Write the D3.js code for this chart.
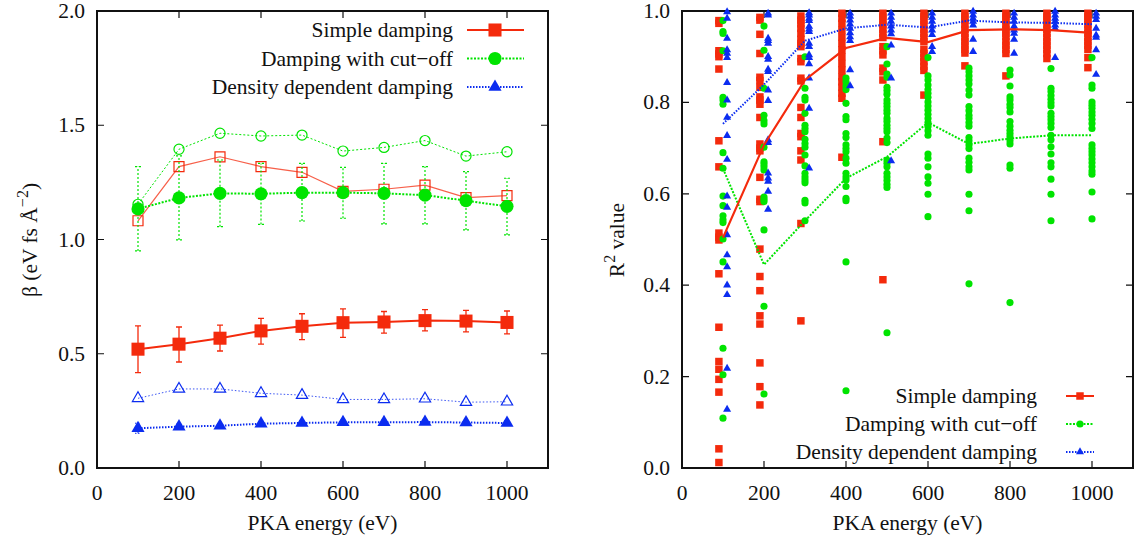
<!DOCTYPE html>
<html>
<head>
<meta charset="utf-8">
<script src="https://cdn.jsdelivr.net/npm/d3@7"></script>
<style>
  body { margin: 0; background: #fff; }
</style>
</head>
<body>
<div id="chart"></div>
<script>
const energies = [100, 200, 300, 400, 500, 600, 700, 800, 900, 1000];
const xTicks = [0, 200, 400, 600, 800, 1000];
const betaTicks = [0, 0.5, 1.0, 1.5, 2.0];
const r2Ticks = [0, 0.2, 0.4, 0.6, 0.8, 1.0];
const seriesNames = ["Simple damping", "Damping with cut\u2212off", "Density dependent damping"];

// left panel: beta values (filled = mean with error bars, open = second estimate)
const simpleBeta = [0.52, 0.542, 0.568, 0.60, 0.62, 0.636, 0.639, 0.645, 0.643, 0.637];
const simpleBetaLo = [0.417, 0.464, 0.512, 0.542, 0.562, 0.572, 0.59, 0.60, 0.596, 0.587];
const simpleBetaHi = [0.622, 0.617, 0.625, 0.655, 0.675, 0.696, 0.685, 0.693, 0.69, 0.687];
const simpleBetaOpen = [1.082, 1.319, 1.362, 1.319, 1.294, 1.211, 1.22, 1.238, 1.183, 1.192];

const cutoffBeta = [1.134, 1.182, 1.202, 1.2, 1.205, 1.205, 1.202, 1.194, 1.17, 1.145];
const cutoffBetaLo = [0.95, 0.998, 1.056, 1.066, 1.081, 1.093, 1.068, 1.068, 1.042, 1.02];
const cutoffBetaHi = [1.319, 1.366, 1.348, 1.333, 1.333, 1.316, 1.333, 1.319, 1.297, 1.268];
const cutoffBetaOpen = [1.154, 1.395, 1.465, 1.453, 1.457, 1.387, 1.403, 1.433, 1.365, 1.384];

const densityBeta = [0.174, 0.181, 0.185, 0.194, 0.197, 0.2, 0.2, 0.201, 0.199, 0.197];
const densityBetaLo = [0.152, 0.17, 0.176, 0.185, 0.188, 0.191, 0.191, 0.192, 0.19, 0.188];
const densityBetaHi = [0.196, 0.192, 0.194, 0.203, 0.206, 0.209, 0.209, 0.21, 0.208, 0.206];
const densityBetaOpen = [0.305, 0.346, 0.346, 0.327, 0.319, 0.30, 0.30, 0.303, 0.288, 0.29];

// right panel: R^2 of every run, one list per energy
const simpleR2 = [
  [0.979, 0.973, 0.913, 0.906, 0.9, 0.873, 0.716, 0.659, 0.514, 0.505, 0.499, 0.425, 0.308, 0.233, 0.216, 0.194, 0.166, 0.042, 0.012],
  [0.986, 0.98, 0.949, 0.907, 0.855, 0.848, 0.833, 0.812, 0.805, 0.796, 0.767, 0.709, 0.7, 0.694, 0.636, 0.588, 0.583, 0.479, 0.419, 0.388, 0.333, 0.315, 0.23, 0.178, 0.138],
  [0.989, 0.98, 0.972, 0.962, 0.951, 0.938, 0.929, 0.922, 0.896, 0.889, 0.853, 0.847, 0.789, 0.767, 0.732, 0.725, 0.694, 0.674, 0.535, 0.322],
  [0.995, 0.984, 0.973, 0.958, 0.943, 0.929, 0.915, 0.9, 0.885, 0.871, 0.856, 0.845, 0.833, 0.82, 0.809, 0.68],
  [0.995, 0.987, 0.979, 0.97, 0.96, 0.951, 0.942, 0.922, 0.913, 0.904, 0.875, 0.867, 0.849, 0.714, 0.412],
  [0.995, 0.987, 0.979, 0.97, 0.96, 0.951, 0.942, 0.933, 0.916, 0.907, 0.898, 0.889, 0.879, 0.87, 0.816],
  [0.995, 0.987, 0.979, 0.97, 0.96, 0.951, 0.942, 0.933, 0.925, 0.916, 0.908, 0.88],
  [0.995, 0.987, 0.979, 0.97, 0.96, 0.951, 0.944, 0.933, 0.925, 0.916, 0.907, 0.858],
  [0.995, 0.987, 0.979, 0.97, 0.96, 0.951, 0.942, 0.933, 0.925, 0.916, 0.907, 0.896],
  [0.995, 0.987, 0.979, 0.97, 0.96, 0.951, 0.942, 0.933, 0.925, 0.916, 0.898, 0.876]
];
const cutoffR2 = [
  [0.979, 0.955, 0.951, 0.913, 0.811, 0.805, 0.796, 0.69, 0.656, 0.595, 0.574, 0.552, 0.543, 0.537, 0.501, 0.451, 0.262, 0.204, 0.109],
  [0.967, 0.914, 0.831, 0.772, 0.76, 0.753, 0.702, 0.67, 0.665, 0.659, 0.652, 0.593, 0.588, 0.583, 0.521, 0.354, 0.162],
  [0.9, 0.831, 0.811, 0.805, 0.776, 0.75, 0.743, 0.736, 0.719, 0.71, 0.702, 0.685, 0.661, 0.645, 0.637, 0.63, 0.624, 0.586, 0.58, 0.541],
  [0.853, 0.845, 0.836, 0.828, 0.798, 0.769, 0.762, 0.732, 0.723, 0.707, 0.699, 0.692, 0.678, 0.667, 0.645, 0.637, 0.63, 0.616, 0.59, 0.585, 0.451, 0.169],
  [0.922, 0.884, 0.862, 0.855, 0.833, 0.826, 0.818, 0.805, 0.798, 0.791, 0.783, 0.776, 0.765, 0.758, 0.75, 0.743, 0.736, 0.722, 0.712, 0.674, 0.667, 0.659, 0.645, 0.637, 0.629, 0.621, 0.614, 0.296],
  [0.898, 0.858, 0.849, 0.838, 0.828, 0.82, 0.811, 0.801, 0.792, 0.783, 0.774, 0.765, 0.756, 0.747, 0.738, 0.728, 0.687, 0.678, 0.659, 0.637, 0.623, 0.599, 0.55],
  [0.875, 0.867, 0.858, 0.849, 0.84, 0.827, 0.816, 0.791, 0.782, 0.772, 0.765, 0.756, 0.748, 0.723, 0.716, 0.707, 0.699, 0.678, 0.669, 0.659, 0.652, 0.599, 0.563, 0.403],
  [0.871, 0.86, 0.836, 0.812, 0.805, 0.796, 0.789, 0.779, 0.758, 0.748, 0.739, 0.732, 0.725, 0.716, 0.709, 0.663, 0.656, 0.362],
  [0.874, 0.831, 0.824, 0.815, 0.807, 0.799, 0.792, 0.776, 0.769, 0.762, 0.754, 0.745, 0.728, 0.718, 0.703, 0.687, 0.668, 0.659, 0.632, 0.599, 0.541],
  [0.898, 0.838, 0.831, 0.801, 0.794, 0.787, 0.779, 0.772, 0.763, 0.754, 0.743, 0.707, 0.699, 0.692, 0.685, 0.676, 0.668, 0.659, 0.65, 0.643, 0.604, 0.545]
];
const densityR2 = [
  [0.998, 0.984, 0.94, 0.915, 0.907, 0.898, 0.843, 0.805, 0.767, 0.727, 0.675, 0.595, 0.57, 0.51, 0.466, 0.44, 0.4, 0.379, 0.218, 0.128],
  [0.995, 0.991, 0.94, 0.935, 0.929, 0.9, 0.894, 0.872, 0.867, 0.827, 0.804, 0.718, 0.712, 0.645, 0.634, 0.627, 0.605, 0.566],
  [0.996, 0.991, 0.984, 0.979, 0.966, 0.96, 0.955, 0.929, 0.922, 0.904, 0.898, 0.884, 0.853, 0.787, 0.656],
  [0.995, 0.988, 0.98, 0.971, 0.962, 0.952, 0.943, 0.935, 0.871, 0.836],
  [0.995, 0.986, 0.977, 0.967, 0.958, 0.95, 0.925, 0.853, 0.672],
  [0.995, 0.986, 0.977, 0.967, 0.958, 0.948, 0.922, 0.911],
  [0.999, 0.991, 0.984, 0.977, 0.969, 0.938, 0.911],
  [0.995, 0.986, 0.977, 0.967, 0.958, 0.951, 0.938, 0.907],
  [0.999, 0.991, 0.984, 0.977, 0.969, 0.962, 0.898],
  [0.995, 0.988, 0.981, 0.962, 0.947, 0.942, 0.915, 0.861]
];
const simpleR2Mean = [0.504, 0.707, 0.849, 0.919, 0.941, 0.932, 0.958, 0.96, 0.958, 0.952];
const cutoffR2Mean = [0.655, 0.445, 0.541, 0.634, 0.681, 0.756, 0.709, 0.721, 0.728, 0.728];
const densityR2Mean = [0.753, 0.839, 0.935, 0.962, 0.97, 0.964, 0.979, 0.975, 0.974, 0.971];

const RED = "#f42a0c", GREEN = "#00e400", BLUE = "#0b2cf0";
const FONT = '"Liberation Serif", "Times New Roman", serif';
const FS = 21.5;

const W = 1141, H = 540;
const svg = d3.select("#chart").append("svg").attr("width", W).attr("height", H);

function label(sel) {
  return sel.style("font-family", FONT).style("font-size", FS + "px").attr("fill", "#111");
}

function frame(left, right, top, bottom, yDomain, yTicks, yFmt) {
  const x = d3.scaleLinear().domain([0, 1100]).range([left, right]);
  const y = d3.scaleLinear().domain(yDomain).range([bottom, top]);
  const g = svg.append("g");
  const tl = 7;
  // inward ticks on all four sides
  g.selectAll(".xt").data(xTicks).enter().append("path")
    .attr("d", d => `M${x(d)},${bottom}v${-tl}M${x(d)},${top}v${tl}`)
    .attr("stroke", "#111").attr("stroke-width", 1.2);
  g.selectAll(".yt").data(yTicks).enter().append("path")
    .attr("d", d => `M${left},${y(d)}h${tl}M${right},${y(d)}h${-tl}`)
    .attr("stroke", "#111").attr("stroke-width", 1.2);
  g.append("rect").attr("x", left).attr("y", top)
    .attr("width", right - left).attr("height", bottom - top)
    .attr("fill", "none").attr("stroke", "#111").attr("stroke-width", 2);
  g.selectAll(".xl").data(xTicks).enter().append("text")
    .call(label)
    .attr("x", d => x(d)).attr("y", bottom + 32)
    .attr("text-anchor", "middle").text(d => d);
  g.selectAll(".yl").data(yTicks).enter().append("text")
    .call(label)
    .attr("x", left - 12).attr("y", d => y(d) + 7)
    .attr("text-anchor", "end").text(yFmt);
  g.append("text").call(label)
    .attr("x", (left + right) / 2).attr("y", bottom + 62)
    .attr("text-anchor", "middle").text("PKA energy (eV)");
  return [x, y];
}

function marks(g, pts, type, size, color, filled) {
  g.selectAll(null).data(pts).enter().append("path")
    .attr("transform", d => `translate(${d[0]},${d[1]})`)
    .attr("d", d3.symbol().type(type).size(size))
    .attr("fill", filled ? color : "none")
    .attr("stroke", color).attr("stroke-width", filled ? 0 : 1.2);
}

function pathLine(g, pts, color, width, dash, opacity) {
  g.append("path").datum(pts)
    .attr("d", d3.line())
    .attr("fill", "none").attr("stroke", color).attr("stroke-width", width)
    .attr("stroke-dasharray", dash).attr("opacity", opacity || 1);
}

function errBars(g, x, y, lo, hi, color, width, dash) {
  g.selectAll(null).data(energies).enter().append("path")
    .attr("d", (d, i) => `M${x(d)},${y(lo[i])}V${y(hi[i])}M${x(d) - 3},${y(lo[i])}h6M${x(d) - 3},${y(hi[i])}h6`)
    .attr("fill", "none").attr("stroke", color).attr("stroke-width", width)
    .attr("stroke-dasharray", dash);
}

// ---------- left panel ----------
const [xL, yL] = frame(97, 548, 11, 468, [0, 2], betaTicks, d => d.toFixed(1));
const gL = svg.append("g");
const ptsOf = (vals) => energies.map((e, i) => [xL(e), yL(vals[i])]);

// open series (thin lines)
pathLine(gL, ptsOf(cutoffBetaOpen), GREEN, 1, "2,2");
marks(gL, ptsOf(cutoffBetaOpen), d3.symbolCircle, 80, GREEN, false);
pathLine(gL, ptsOf(simpleBetaOpen), RED, 1.2, null, 0.75);
marks(gL, ptsOf(simpleBetaOpen), d3.symbolSquare, 100, RED, false);
pathLine(gL, ptsOf(densityBetaOpen), BLUE, 1, "1.5,2", 0.8);
marks(gL, ptsOf(densityBetaOpen), d3.symbolTriangle, 55, BLUE, false);

// filled series with error bars
errBars(gL, xL, yL, cutoffBetaLo, cutoffBetaHi, GREEN, 1.2, "2,2");
pathLine(gL, ptsOf(cutoffBeta), GREEN, 2, "2,1.5");
marks(gL, ptsOf(cutoffBeta), d3.symbolCircle, 135, GREEN, true);
errBars(gL, xL, yL, simpleBetaLo, simpleBetaHi, RED, 1.3, null);
pathLine(gL, ptsOf(simpleBeta), RED, 2, null);
marks(gL, ptsOf(simpleBeta), d3.symbolSquare, 170, RED, true);
errBars(gL, xL, yL, densityBetaLo, densityBetaHi, BLUE, 1, "1.5,1.5");
pathLine(gL, ptsOf(densityBeta), BLUE, 2, "1.5,1.5");
marks(gL, ptsOf(densityBeta), d3.symbolTriangle, 75, BLUE, true);

svg.append("text").call(label)
  .attr("transform", "translate(37,240) rotate(-90)")
  .attr("text-anchor", "middle")
  .call(t => {
    t.append("tspan").text("\u03b2 (eV fs \u00c5");
    t.append("tspan").attr("dy", -9).style("font-size", "16px").text("\u22122");
    t.append("tspan").attr("dy", 9).text(")");
  });

// left legend
const legL = [
  { name: seriesNames[0], color: RED, width: 2, dash: null, type: d3.symbolSquare, size: 170 },
  { name: seriesNames[1], color: GREEN, width: 2, dash: "2,1.5", type: d3.symbolCircle, size: 135 },
  { name: seriesNames[2], color: BLUE, width: 2, dash: "1.5,1.5", type: d3.symbolTriangle, size: 75 }
];
legL.forEach((s, i) => {
  const cy = 30 + i * 28.5;
  svg.append("text").call(label)
    .attr("x", 453).attr("y", cy + 7).attr("text-anchor", "end").text(s.name);
  pathLine(svg, [[467, cy], [524, cy]], s.color, s.width, s.dash);
  marks(svg, [[495, cy]], s.type, s.size, s.color, true);
});

// ---------- right panel ----------
const [xR, yR] = frame(682, 1133, 11, 468, [0, 1], r2Ticks, d => d.toFixed(1));
const gR = svg.append("g");
const scatterPts = (lists, offset) => lists.flatMap((vals, i) => vals.map(v => [xR(energies[i] + offset), yR(v)]));

marks(gR, scatterPts(simpleR2, -10), d3.symbolSquare, 56, RED, true);
marks(gR, scatterPts(cutoffR2, 0), d3.symbolCircle, 40, GREEN, true);
marks(gR, scatterPts(densityR2, 10), d3.symbolTriangle, 28, BLUE, true);

const meanPts = (vals) => energies.map((e, i) => [xR(e), yR(vals[i])]);
pathLine(gR, meanPts(densityR2Mean), BLUE, 2, "1.5,1.5");
pathLine(gR, meanPts(cutoffR2Mean), GREEN, 2, "2,1.5");
pathLine(gR, meanPts(simpleR2Mean), RED, 2.2, null);

svg.append("text").call(label)
  .attr("transform", "translate(624,240) rotate(-90)")
  .attr("text-anchor", "middle")
  .call(t => {
    t.append("tspan").text("R");
    t.append("tspan").attr("dy", -9).style("font-size", "16px").text("2");
    t.append("tspan").attr("dy", 9).text(" value");
  });

// right legend
const legR = [
  { name: seriesNames[0], color: RED, width: 2, dash: null, type: d3.symbolSquare, size: 56 },
  { name: seriesNames[1], color: GREEN, width: 2, dash: "2,1.5", type: d3.symbolCircle, size: 40 },
  { name: seriesNames[2], color: BLUE, width: 2, dash: "1.5,1.5", type: d3.symbolTriangle, size: 28 }
];
legR.forEach((s, i) => {
  const cy = 396 + i * 28;
  svg.append("text").call(label)
    .attr("x", 1037).attr("y", cy + 7).attr("text-anchor", "end").text(s.name);
  pathLine(svg, [[1066, cy], [1094, cy]], s.color, s.width, s.dash);
  marks(svg, [[1080, cy]], s.type, s.size, s.color, true);
});
</script>
</body>
</html>
